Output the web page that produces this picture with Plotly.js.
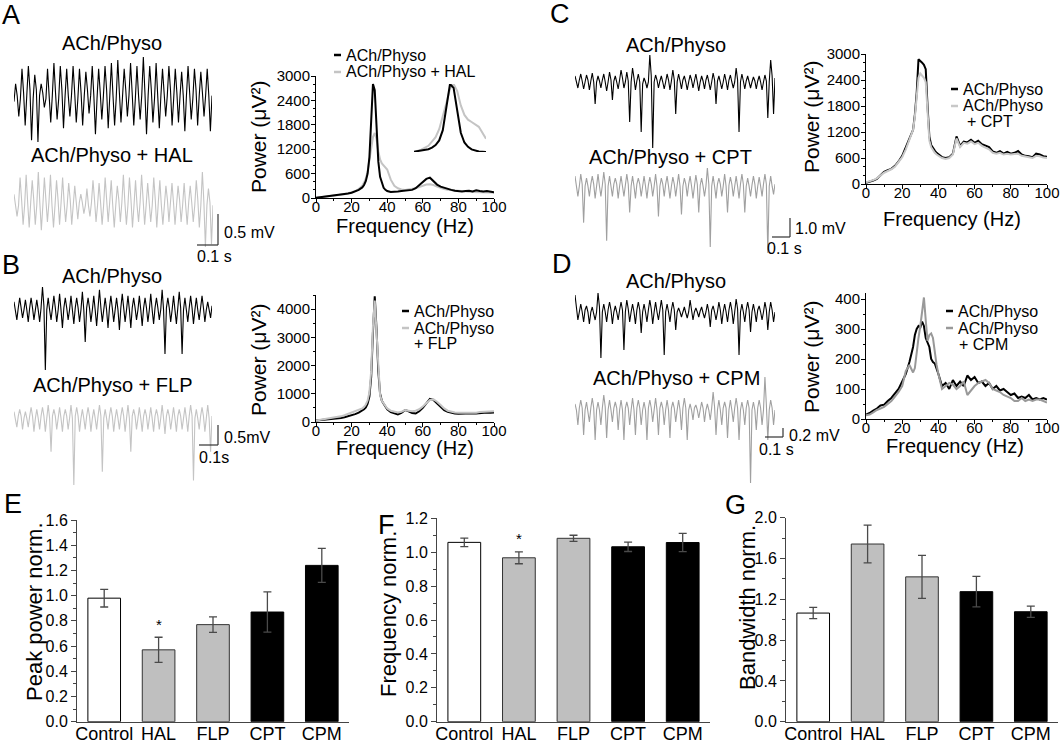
<!DOCTYPE html>
<html><head><meta charset="utf-8">
<script src="https://cdn.plot.ly/plotly-3.0.1.min.js"></script>
<style>html,body{margin:0;padding:0;background:#fff}#chart{width:1063px;height:743px}</style>
</head><body><div id="chart"></div>
<script>
// ---------------- DATA ----------------
// Example field-potential traces (mV, baseline 0, uniform sampling)
const traceA_ctrl = [
-0.1,0.2,0.0,-0.35, -0.05,0.45,0.05,-0.5, 0.0,0.5,0.1,-0.75, -0.05,0.35,0.1,-0.78,
0.0,0.2,0.05,-0.2, -0.05,0.45,0.0,-0.45, 0.0,0.55,0.05,-0.4, -0.05,0.5,0.1,-0.55,
0.0,0.45,0.0,-0.35, 0.0,0.5,0.05,-0.45, -0.05,0.45,0.05,-0.5, 0.0,0.4,0.1,-0.3,
0.0,0.5,0.0,-0.65, -0.05,0.45,0.05,-0.4, 0.0,0.5,0.1,-0.55, 0.0,0.55,0.0,-0.5,
-0.05,0.6,0.05,-0.45, 0.0,0.45,0.1,-0.35, 0.0,0.55,0.05,-0.5, -0.05,0.5,0.0,-0.4,
0.0,0.65,0.05,-0.65, 0.0,0.5,0.1,-0.45, -0.05,0.55,0.0,-0.55, 0.0,0.45,0.05,-0.35,
0.0,0.5,0.1,-0.5, -0.05,0.45,0.05,-0.45, 0.0,0.4,0.0,-0.6, 0.0,0.5,0.05,-0.4,
-0.05,0.45,0.1,-0.5, 0.0,0.4,0.05,-0.35, 0.0,0.45,0.0,-0.6, 0.0];
const traceA_hal = [
0.2,0.0,-0.2,0.0, 0.5,0.1,-0.35,0.0, 0.55,0.05,-0.4,0.05, 0.45,0.1,-0.35,0.0,
0.6,0.05,-0.45,0.0, 0.5,0.1,-0.3,0.05, 0.55,0.0,-0.4,0.0, 0.45,0.1,-0.35,0.05,
0.5,0.05,-0.3,0.0, 0.4,0.1,-0.35,0.0, 0.35,0.05,-0.25,0.05, 0.2,0.05,-0.15,0.0,
0.3,0.0,-0.2,0.05, 0.45,0.1,-0.3,0.0, 0.4,0.05,-0.35,0.0, 0.5,0.1,-0.3,0.05,
0.45,0.0,-0.4,0.0, 0.35,0.1,-0.3,0.05, 0.55,0.05,-0.35,0.0, 0.5,0.1,-0.4,0.0,
0.45,0.0,-0.3,0.05, 0.55,0.1,-0.35,0.0, 0.4,0.05,-0.3,0.0, 0.5,0.1,-0.4,0.05,
0.45,0.0,-0.35,0.0, 0.35,0.1,-0.3,0.05, 0.4,0.05,-0.35,0.0, 0.35,0.1,-0.3,0.0,
0.4,0.0,-0.35,0.05, 0.35,0.05,-0.3,0.0, 0.45,0.1,-0.4,0.0, 0.6,0.05,-0.75,0.0,
0.3,0.05,-0.7,0.0];
const traceB_ctrl = [
0.2,0.0,-0.25,0.05, 0.3,0.05,-0.2,0.0, 0.25,0.0,-0.3,0.05, 0.3,0.05,-0.25,0.0,
0.25,0.0,-0.3,0.05, 0.57,0.1,-1.5,0.0, 0.3,0.0,-0.25,0.05, 0.35,0.05,-0.3,0.0,
0.4,0.0,-0.45,0.05, 0.3,0.05,-0.25,0.0, 0.35,0.0,-0.35,0.05, 0.3,0.05,-0.3,0.0,
0.45,0.0,-0.8,0.05, 0.3,0.05,-0.3,0.0, 0.35,0.0,-0.4,0.05, 0.5,0.05,-0.3,0.0,
0.3,0.0,-0.45,0.05, 0.35,0.05,-0.3,0.0, 0.3,0.0,-0.5,0.05, 0.4,0.05,-0.3,0.0,
0.35,0.0,-0.45,0.05, 0.3,0.05,-0.25,0.0, 0.35,0.0,-0.4,0.05, 0.3,0.05,-0.3,0.0,
0.4,0.0,-0.35,0.05, 0.3,0.05,-0.25,0.0, 0.5,0.0,-1.1,0.05, 0.3,0.05,-0.3,0.0,
0.35,0.0,-0.35,0.05, 0.45,0.05,-1.1,0.0, 0.3,0.0,-0.3,0.05, 0.35,0.05,-0.35,0.0,
0.3,0.0,-0.25,0.05, 0.35,0.05,-0.3,0.0, 0.2,0.0,-0.2,0.1];
const traceB_flp = [
0.15,0.0,-0.2,0.05, 0.2,0.05,-0.25,0.0, 0.15,0.0,-0.2,0.05, 0.25,0.05,-0.3,0.0,
0.2,0.0,-0.25,0.05, 0.25,0.05,-0.3,0.0, 0.3,0.0,-0.75,0.05, 0.2,0.05,-0.25,0.0,
0.25,0.0,-0.3,0.05, 0.2,0.05,-0.25,0.0, 0.3,0.0,-1.5,0.05, 0.25,0.05,-0.3,0.0,
0.2,0.0,-0.25,0.05, 0.25,0.05,-0.3,0.0, 0.2,0.0,-0.25,0.05, 0.3,0.05,-1.2,0.0,
0.2,0.0,-0.25,0.05, 0.25,0.05,-0.3,0.0, 0.2,0.0,-0.25,0.05, 0.25,0.05,-0.3,0.0,
0.3,0.0,-0.75,0.05, 0.2,0.05,-0.25,0.0, 0.25,0.0,-0.3,0.05, 0.2,0.05,-0.25,0.0,
0.25,0.0,-0.3,0.05, 0.2,0.05,-0.25,0.0, 0.3,0.0,-0.35,0.05, 0.2,0.05,-0.25,0.0,
0.25,0.0,-0.3,0.05, 0.2,0.05,-0.25,0.0, 0.25,0.0,-0.3,0.05, 0.3,0.05,-1.4,0.0,
0.2,0.0,-0.25,0.05, 0.25,0.05,-0.3,0.0, 0.3,0.0,-0.75,0.05];
const traceC_ctrl = [
0.3,0.0,-0.3,0.1, 0.4,0.05,-0.35,0.0, 0.35,0.1,-0.4,0.05, 0.45,0.0,-1.1,0.0,
0.3,0.05,-0.3,0.1, 0.4,0.0,-0.45,0.0, 0.5,0.1,-0.9,0.05, 0.3,0.0,-0.35,0.1,
0.6,0.2,-0.3,0.0, 0.5,0.05,-2.0,0.0, 0.7,0.2,-0.4,0.05, 0.4,0.0,-2.5,-0.1,
0.2,0.0,-0.3,0.0, 1.35,0.3,-3.3,0.0, 0.35,0.1,-0.3,0.05, 0.3,0.0,-0.35,0.0,
0.4,0.1,-0.4,0.05, 0.6,0.1,-1.6,0.0, 0.4,0.05,-0.35,0.1, 0.3,0.0,-0.4,0.0,
0.35,0.1,-0.3,0.05, 0.4,0.0,-0.45,0.0, 0.3,0.05,-0.35,0.1, 0.35,0.0,-0.4,0.0,
0.45,0.1,-1.1,0.05, 0.3,0.0,-0.35,0.0, 0.4,0.05,-0.4,0.1, 0.35,0.0,-0.3,0.0,
0.7,0.1,-2.5,0.0, 0.4,0.05,-0.35,0.05, 0.3,0.0,-0.3,0.0, 0.25,0.05,-0.35,0.05,
0.3,0.0,-0.4,0.0, 0.35,0.05,-1.8,0.0, 1.1,0.3,-1.6,0.2];
const traceC_cpt = [
0.5,0.1,-0.5,0.0, 0.6,0.1,-1.8,0.0, 0.4,0.0,-0.5,0.1, 0.5,0.1,-0.6,0.0,
0.6,0.0,-0.5,0.05, 0.7,0.1,-2.7,0.0, 0.5,0.0,-0.5,0.1, 0.4,0.1,-0.6,0.0,
0.5,0.0,-0.5,0.05, 0.6,0.1,-1.3,0.0, 0.5,0.0,-0.6,0.1, 0.4,0.1,-0.5,0.0,
0.5,0.0,-0.6,0.05, 0.45,0.1,-0.5,0.0, 0.6,0.0,-1.5,0.0, 0.4,0.1,-0.5,0.1,
0.5,0.0,-0.6,0.0, 0.45,0.1,-0.5,0.05, 0.6,0.0,-1.4,0.0, 0.4,0.1,-0.5,0.1,
0.5,0.0,-0.6,0.0, 0.55,0.1,-1.3,0.05, 0.4,0.0,-0.5,0.0, 0.9,0.1,-3.0,0.0,
0.5,0.0,-0.6,0.1, 0.4,0.1,-0.5,0.0, 0.6,0.0,-1.3,0.05, 0.45,0.1,-0.5,0.0,
0.5,0.0,-0.6,0.1, 0.6,0.1,-1.3,0.0, 0.4,0.0,-0.5,0.05, 0.5,0.1,-0.6,0.0,
0.45,0.0,-0.5,0.1, 0.6,0.1,-3.3,0.0, 0.5,0.0,-0.4,0.1];
const traceD_ctrl = [
0.17,0.05,-0.08,0.0, 0.08,0.0,-0.1,0.02, 0.06,0.0,-0.12,0.0, 0.05,-0.02,-0.08,0.0,
0.19,0.05,-0.46,0.0, 0.08,0.0,-0.1,0.02, 0.1,0.02,-0.12,0.0, 0.06,0.0,-0.08,0.02,
0.1,0.02,-0.38,0.0, 0.12,0.03,-0.1,0.0, 0.08,0.0,-0.12,0.02, 0.1,0.02,-0.21,0.0,
0.08,0.0,-0.1,0.02, 0.12,0.03,-0.12,0.0, 0.1,0.0,-0.08,0.02, 0.12,0.02,-0.43,0.0,
0.08,0.0,-0.1,0.02, 0.1,0.02,-0.18,0.0, 0.04,0.0,-0.05,0.0, 0.05,-0.01,-0.06,0.0,
0.12,0.02,-0.08,0.0, 0.04,0.0,-0.05,0.01, 0.05,-0.01,-0.06,0.0, 0.08,0.0,-0.15,0.02,
0.06,0.0,-0.08,0.0, 0.1,0.02,-0.12,0.0, 0.08,0.0,-0.1,0.02, 0.1,0.02,-0.12,0.0,
0.13,0.03,-0.43,0.0, 0.08,0.0,-0.1,0.02, 0.1,0.02,-0.2,0.0, 0.08,0.0,-0.1,0.02,
0.06,0.0,-0.08,0.0, 0.1,0.02,-0.18,0.0, 0.1,0.02,-0.1,0.0];
const traceD_cpm = [
0.06,0.0,-0.15,0.02, 0.1,0.02,-0.25,0.0, 0.08,0.0,-0.12,0.02, 0.12,0.02,-0.3,0.0,
0.08,0.0,-0.15,0.02, 0.15,0.03,-0.28,0.0, 0.1,0.0,-0.12,0.02, 0.08,0.02,-0.2,0.0,
0.1,0.0,-0.3,0.02, 0.08,0.02,-0.15,0.0, 0.12,0.0,-0.25,0.02, 0.1,0.02,-0.15,0.0,
0.08,0.0,-0.3,0.02, 0.1,0.02,-0.12,0.0, 0.12,0.0,-0.25,0.02, 0.08,0.02,-0.15,0.0,
0.1,0.0,-0.28,0.02, 0.08,0.02,-0.12,0.0, 0.1,0.0,-0.2,0.02, 0.12,0.02,-0.3,0.0,
0.06,0.0,-0.1,0.02, 0.05,0.0,-0.08,0.0, 0.08,0.02,-0.12,0.0, 0.06,0.0,-0.1,0.02,
0.18,0.03,-0.25,0.0, 0.1,0.0,-0.15,0.02, 0.08,0.02,-0.28,0.0, 0.1,0.0,-0.12,0.02,
0.12,0.02,-0.3,0.0, 0.08,0.0,-0.15,0.02, 0.1,0.02,-0.73,0.0, 0.08,0.0,-0.2,0.02,
0.1,0.02,-0.15,0.0, 0.33,0.05,-0.3,0.0, 0.1,0.02,-0.15,0.0];

// Power spectra (uV^2) at these frequencies (Hz)
const freqHz = [0,2,4,6,8,10,12,14,16,18,20,22,24,26,27,28,29,30,31,32,33,34,35,36,37,38,39,40,
42,44,46,48,50,52,54,56,58,60,62,64,66,68,70,72,74,76,78,80,82,84,86,88,90,92,94,96,98,100];
const powA_ctrl = [5,15,25,35,45,55,65,75,90,110,130,160,200,260,320,420,600,1000,1900,2800,2650,1700,900,520,350,250,200,170,
150,150,160,170,180,190,200,240,320,400,470,500,420,330,280,250,230,200,180,170,160,170,180,160,190,170,160,170,150,140];
const powA_hal = [5,15,25,35,45,55,65,80,95,115,140,170,220,300,380,480,650,900,1200,1500,1600,1450,1150,950,850,800,750,700,
450,300,240,210,200,210,220,240,270,300,330,340,320,280,240,220,200,190,180,170,165,160,155,150,150,145,140,140,135,130];
const powB_ctrl = [50,60,70,80,90,100,120,140,170,200,240,280,330,400,450,520,650,900,1600,3200,4450,3300,1800,1000,750,650,550,450,
350,300,270,320,420,380,320,300,380,500,650,820,780,650,520,420,360,320,300,290,300,290,300,310,300,320,330,340,330,340];
const powB_flp = [50,70,90,110,130,150,170,200,240,290,340,380,420,480,540,620,760,1050,1800,3400,4300,3200,1700,950,750,650,560,480,
400,360,340,360,420,400,380,400,450,550,680,780,800,720,600,480,400,360,340,330,330,320,330,340,330,350,360,380,370,380];
const powC_ctrl = [30,50,80,120,200,280,320,350,420,520,650,850,1050,1250,1600,2100,2880,2850,2800,2750,2650,1800,1100,900,820,770,720,680,
620,600,620,700,1100,880,980,960,1020,950,1000,920,880,850,750,720,760,700,740,700,720,760,680,650,640,620,700,680,640,630];
const powC_cpt = [40,60,90,130,200,260,300,340,400,500,620,800,1050,1250,1550,2000,2450,2550,2500,2450,2350,1600,1000,850,780,720,680,650,
600,580,600,680,1050,850,950,930,980,920,950,880,840,800,720,700,720,680,700,680,690,700,650,630,620,600,650,640,610,600];
const powD_ctrl = [15,20,28,35,45,48,60,70,85,100,125,150,190,240,280,300,310,305,325,310,270,255,240,200,190,185,170,150,
110,120,100,130,110,125,110,145,130,140,120,125,110,120,100,110,95,100,90,80,85,70,75,70,80,65,70,65,70,65];
const powD_cpm = [12,15,22,30,35,40,50,60,75,90,110,160,180,155,170,230,270,310,360,405,330,260,280,285,270,220,180,150,
100,110,120,115,100,110,125,80,95,110,120,125,130,120,100,95,90,80,75,70,60,60,70,60,65,60,65,65,60,55];

// Summary bar data
const groups = ['Control','HAL','FLP','CPT','CPM'];
const peakPower = [0.98,0.57,0.77,0.87,1.24];
const peakPowerErr = [0.07,0.10,0.062,0.16,0.135];
const freqNorm = [1.058,0.967,1.082,1.032,1.057];
const freqNormErr = [0.025,0.035,0.018,0.028,0.054];
const bandwidthNorm = [1.065,1.742,1.42,1.275,1.078];
const bandwidthErr = [0.055,0.185,0.21,0.15,0.055];
const sigIndex = 1; // HAL marked with *

// ---------------- LAYOUT HELPERS ----------------
const W = 1063, H = 743;
const FONT = 'Liberation Sans, Arial, Helvetica, sans-serif';
const fx = p => p / W;
const fy = p => 1 - p / H;
const BLACK = '#000000';
const LIGHT = '#c4c4c4';
const MID = '#a0a0a0';

const data = [];
const layout = {
  width: W, height: H, margin: {l:0, r:0, t:0, b:0},
  paper_bgcolor: '#ffffff', plot_bgcolor: 'rgba(0,0,0,0)',
  showlegend: false, font: {family: FONT, color: '#000'},
  annotations: [], shapes: []
};

function hiddenTrace(i, arr, color, x0, x1, yTop, yBot) {
  const xs = arr.map((_, k) => k);
  data.push({type:'scatter', mode:'lines', x: xs, y: arr, xaxis:'x'+i, yaxis:'y'+i,
    line:{color: color, width: 1.1}, hoverinfo:'skip'});
  const mn = Math.min(...arr), mx = Math.max(...arr);
  layout['xaxis'+i] = {domain:[fx(x0), fx(x1)], range:[0, arr.length-1], visible:false, anchor:'y'+i, fixedrange:true};
  layout['yaxis'+i] = {domain:[fy(yBot), fy(yTop)], range:[mn, mx], visible:false, anchor:'x'+i, fixedrange:true};
}

function specAxes(i, x0, x1, yTop, yBot, yMax, dtick, minorDtick) {
  const common = {showline:true, linecolor:'#000', linewidth:1, ticks:'outside', ticklen:4, tickwidth:1,
    tickcolor:'#000', showgrid:false, zeroline:false, tickfont:{family:FONT, size:15, color:'#000'}, fixedrange:true};
  layout['xaxis'+i] = Object.assign({}, common, {domain:[fx(x0), fx(x1)], range:[0,100], dtick:20, tick0:0,
    anchor:'y'+i, ticklabelstandoff:-9, minor:{dtick:10, ticklen:2, ticks:'outside', tickcolor:'#000', showgrid:false}});
  layout['yaxis'+i] = Object.assign({}, common, {domain:[fy(yBot), fy(yTop)], range:[0,yMax], dtick:dtick, tick0:0,
    anchor:'x'+i, ticklabelstandoff:-2, minor:{dtick:minorDtick, ticklen:2, ticks:'outside', tickcolor:'#000', showgrid:false}});
}
function specLine(i, y, color) {
  data.push({type:'scatter', mode:'lines', x: freqHz, y: y, xaxis:'x'+i, yaxis:'y'+i,
    line:{color: color, width: 2}, hoverinfo:'skip'});
}

function txt(text, x, y, size, xanchor, extra) {
  layout.annotations.push(Object.assign({text: text, x: fx(x), y: fy(y), xref:'paper', yref:'paper',
    xanchor: xanchor || 'center', yanchor:'middle', showarrow:false,
    font:{family:FONT, size:size, color:'#000'}}, extra || {}));
}
function seg(x0, y0, x1, y1, color, width) {
  layout.shapes.push({type:'line', xref:'paper', yref:'paper', x0: fx(x0), y0: fy(y0), x1: fx(x1), y1: fy(y1),
    line:{color: color, width: width}});
}

// ---------------- TRACES ----------------
hiddenTrace(1, traceA_ctrl, BLACK, 14, 212, 57, 142);
hiddenTrace(2, traceA_hal, LIGHT, 14, 213, 172, 247);
hiddenTrace(3, traceB_ctrl, BLACK, 14, 212, 287, 370);
hiddenTrace(4, traceB_flp, LIGHT, 14, 212, 405, 485);
hiddenTrace(5, traceC_ctrl, BLACK, 575, 775, 55, 148);
hiddenTrace(6, traceC_cpt, MID, 575, 775, 168, 253);
hiddenTrace(7, traceD_ctrl, BLACK, 575, 775, 293, 358);
hiddenTrace(8, traceD_cpm, MID, 575, 775, 377, 483);

// ---------------- SPECTRA ----------------
specAxes(9, 316, 494, 76, 198, 3000, 600, 200);
specLine(9, powA_hal, LIGHT); specLine(9, powA_ctrl, BLACK);
specAxes(10, 316, 494, 295, 422, 4500, 1000, 500);
specLine(10, powB_ctrl, BLACK); specLine(10, powB_flp, LIGHT);
specAxes(11, 866, 1047, 54, 184, 3000, 600, 200);
specLine(11, powC_ctrl, BLACK); specLine(11, powC_cpt, '#c8c8c8');
specAxes(12, 866, 1047, 293, 419, 420, 100, 50);
specLine(12, powD_ctrl, BLACK); specLine(12, powD_cpm, '#999999');

// Inset of panel A: normalised peak region
(function(){
  const lo = 22, hi = 42;
  function norm(arr){
    const xs = [], ys = [];
    freqHz.forEach((f,k)=>{ if (f>=lo && f<=hi){ xs.push(f); ys.push(arr[k]); } });
    const mx = Math.max(...ys), mn = Math.min(...ys);
    return {x: xs, y: ys.map(v => (v - mn) / (mx - mn))};
  }
  const g = norm(powA_hal), b = norm(powA_ctrl);
  data.push({type:'scatter', mode:'lines', x:g.x, y:g.y, xaxis:'x13', yaxis:'y13', line:{color:LIGHT, width:2}, hoverinfo:'skip'});
  data.push({type:'scatter', mode:'lines', x:b.x, y:b.y, xaxis:'x13', yaxis:'y13', line:{color:BLACK, width:2}, hoverinfo:'skip'});
  layout.xaxis13 = {domain:[fx(414), fx(486)], range:[lo, hi], visible:false, anchor:'y13', fixedrange:true};
  layout.yaxis13 = {domain:[fy(152), fy(84)], range:[0, 1], visible:false, anchor:'x13', fixedrange:true};
})();

// ---------------- BAR PANELS ----------------
function barPanel(i, x0, x1, yTop, vals, errs, yMax, dtick, minorDtick, starY) {
  data.push({type:'bar', x: groups, y: vals, xaxis:'x'+i, yaxis:'y'+i, width:0.6,
    marker:{color:['#ffffff','#bfbfbf','#bfbfbf','#000000','#000000'],
            line:{color:['#000000','#333333','#333333','#000000','#000000'], width:1}},
    error_y:{type:'data', array: errs, visible:true, color:'#4a4a4a', thickness:1.3, width:4},
    hoverinfo:'skip'});
  layout['xaxis'+i] = {domain:[fx(x0), fx(x1)], type:'category', range:[-0.5, 4.5], anchor:'y'+i,
    showline:true, linecolor:'#444', linewidth:1, ticks:'', showgrid:false, zeroline:false,
    ticklabelstandoff:-4, tickfont:{family:FONT, size:18, color:'#000'}, fixedrange:true};
  layout['yaxis'+i] = {domain:[fy(721.7), fy(yTop)], range:[0, yMax], dtick:dtick, tick0:0, tickformat:'.1f',
    anchor:'x'+i, showline:true, linecolor:'#444', linewidth:1, ticks:'outside', ticklen:5, tickcolor:'#444',
    showgrid:false, zeroline:false, tickfont:{family:FONT, size:16, color:'#000'}, fixedrange:true,
    minor:{dtick:minorDtick, ticklen:3, ticks:'outside', tickcolor:'#444', showgrid:false}};
  layout.annotations.push({text:'*', x: groups[sigIndex], y: starY, xref:'x'+i, yref:'y'+i,
    showarrow:false, yanchor:'middle', font:{family:FONT, size:15, color:'#000'}});
}
barPanel(14, 77, 349, 520, peakPower, peakPowerErr, 1.6, 0.2, 0.1, 0.77);
barPanel(15, 437, 710, 518.3, freqNorm, freqNormErr, 1.2, 0.2, 0.1, 1.08);
barPanel(16, 786, 1058, 517.7, bandwidthNorm, bandwidthErr, 2.0, 0.4, 0.2, 2.03);

// ---------------- TEXT ----------------
// panel letters
txt('A', 11, 15, 27); txt('B', 11, 265, 27); txt('C', 560, 14, 27); txt('D', 562, 264, 27);
txt('E', 13, 504, 27); txt('F', 386, 525, 27); txt('G', 735, 505, 27);
// trace titles
txt('ACh/Physo', 112, 43, 20); txt('ACh/Physo + HAL', 112, 155, 20);
txt('ACh/Physo', 112, 276, 20); txt('ACh/Physo + FLP', 113, 385, 20);
txt('ACh/Physo', 676, 45, 20); txt('ACh/Physo + CPT', 670, 157, 20);
txt('ACh/Physo', 676, 281, 20); txt('ACh/Physo + CPM', 676, 378, 20);
// spectra axis titles
const powTitle = 'Power (μV²)';
txt(powTitle, 258, 137, 21, 'center', {textangle:-90});
txt(powTitle, 258, 360, 21, 'center', {textangle:-90});
txt(powTitle, 812, 117, 21, 'center', {textangle:-90});
txt(powTitle, 812, 357, 21, 'center', {textangle:-90});
txt('Frequency (Hz)', 405, 226, 20); txt('Frequency (Hz)', 405, 448, 20);
txt('Frequency (Hz)', 952, 219, 20); txt('Frequency (Hz)', 955, 446, 20);
// spectra legends
function legendEntry(x, y, color, label) { seg(x, y, x+7, y, color, 2.5); txt(label, x+10, y, 16, 'left'); }
legendEntry(334, 55, BLACK, 'ACh/Physo'); legendEntry(334, 72, LIGHT, 'ACh/Physo + HAL');
legendEntry(402, 311, BLACK, 'ACh/Physo'); legendEntry(402, 328, LIGHT, 'ACh/Physo'); txt('+ FLP', 412, 343, 16, 'left');
legendEntry(951, 89, BLACK, 'ACh/Physo'); legendEntry(951, 106, '#c8c8c8', 'ACh/Physo'); txt('+ CPT', 965, 122, 16, 'left');
legendEntry(946, 311, BLACK, 'ACh/Physo'); legendEntry(946, 328, '#999999', 'ACh/Physo'); txt('+ CPM', 957, 344, 16, 'left');
// bar axis titles
txt('Peak power norm.', 34, 612, 22, 'center', {textangle:-90});
txt('Frequency norm.', 388, 614, 22, 'center', {textangle:-90});
txt('Bandwidth norm.', 747, 608, 22, 'center', {textangle:-90});
// scale bars
seg(218, 214, 218, 245, '#333', 1.2); seg(197, 245, 218, 245, '#333', 1.2);
txt('0.5 mV', 222, 232, 16, 'left'); txt('0.1 s', 195, 256, 16, 'left');
seg(218, 425, 218, 445, '#333', 1.2); seg(199, 445, 218, 445, '#333', 1.2);
txt('0.5mV', 222, 437, 16, 'left'); txt('0.1s', 197, 457, 16, 'left');
seg(790, 218, 790, 237, '#333', 1.2); seg(772, 237, 790, 237, '#333', 1.2);
txt('1.0 mV', 793, 229, 16, 'left'); txt('0.1 s', 765, 249, 16, 'left');
seg(783, 428, 783, 437, '#333', 1.2); seg(765, 437, 783, 437, '#333', 1.2);
txt('0.2 mV', 787, 436, 16, 'left'); txt('0.1 s', 757, 449, 16, 'left');

Plotly.newPlot('chart', data, layout, {staticPlot:true, displayModeBar:false});
</script>
</body></html>
